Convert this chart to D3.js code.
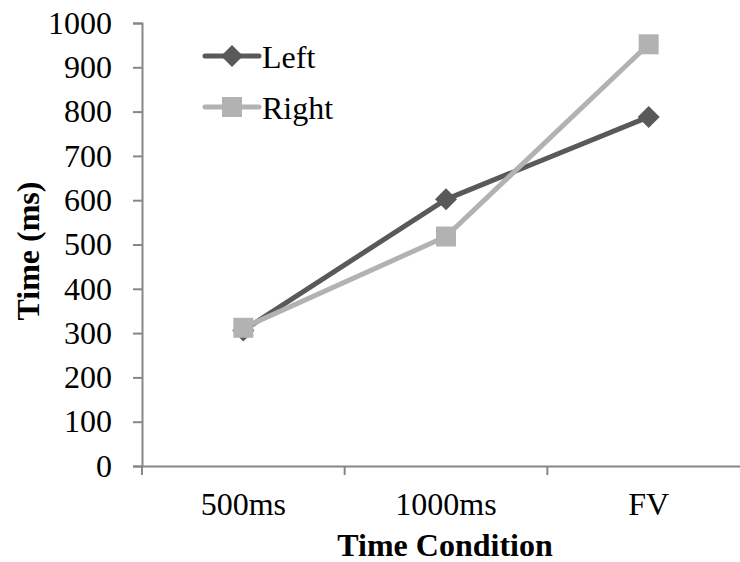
<!DOCTYPE html>
<html><head><meta charset="utf-8">
<script src="https://cdn.jsdelivr.net/npm/d3@7"></script>
<style>body{margin:0;background:#fff}svg{display:block}text{font-family:"Liberation Serif","Times New Roman",serif}</style>
</head><body>
<script>
const categories = ["500ms", "1000ms", "FV"];
const leftValues = [306, 602, 788];
const rightValues = [312, 518, 952];
const seriesNames = ["Left", "Right"];
const yTicks = [0,100,200,300,400,500,600,700,800,900,1000];

const W = 740, H = 562;
const svg = d3.select("body").append("svg").attr("width", W).attr("height", H);
const x = d3.scaleBand().domain(categories).range([142, 750]);
const y = d3.scaleLinear().domain([0, 1000]).range([466, 23]);
const axisColor = "#868686";
const FS = 32;

// y axis
const ya = svg.append("g").attr("transform", "translate(142,0)")
  .call(d3.axisLeft(y).tickValues(yTicks).tickFormat(d3.format("d")).tickSize(9).tickPadding(21));
ya.attr("font-family", null).attr("font-size", null);
ya.select(".domain").attr("stroke", axisColor).attr("stroke-width", 2);
ya.selectAll(".tick line").attr("stroke", axisColor).attr("stroke-width", 2);
ya.selectAll(".tick text").attr("font-size", FS).attr("fill", "#000");

// x axis
const xa = svg.append("g").attr("transform", "translate(0,466)")
  .call(d3.axisBottom(x).tickSize(0).tickPadding(26));
xa.attr("font-family", null).attr("font-size", null);
xa.select(".domain").attr("stroke", axisColor).attr("stroke-width", 2);
xa.selectAll(".tick text").attr("font-size", FS).attr("fill", "#000");
const bounds = categories.map(c => x(c)).concat([x.range()[1]]);
svg.append("g").selectAll("line").data(bounds).join("line")
  .attr("x1", d => d).attr("x2", d => d).attr("y1", 466).attr("y2", 475)
  .attr("stroke", axisColor).attr("stroke-width", 2);

// titles
svg.append("text").attr("x", 445).attr("y", 556).attr("text-anchor", "middle")
  .attr("font-size", FS).attr("font-weight", "bold").text("Time Condition");
svg.append("text").attr("transform", "translate(39,251) rotate(-90)").attr("text-anchor", "middle")
  .attr("font-size", FS).attr("font-weight", "bold").text("Time (ms)");

const cx = c => x(c) + x.bandwidth() / 2;
const series = [
  {name: seriesNames[0], values: leftValues, color: "#595959", marker: "diamond"},
  {name: seriesNames[1], values: rightValues, color: "#b2b2b2", marker: "square"}
];
const line = d3.line().x((d, i) => cx(categories[i])).y(d => y(d));
function drawMarker(g, type, color) {
  if (type === "diamond") {
    g.append("path").attr("d", "M0,-11L11,0L0,11L-11,0Z").attr("fill", color);
  } else {
    g.append("rect").attr("x", -10).attr("y", -10).attr("width", 20).attr("height", 20).attr("fill", color);
  }
}
series.forEach(s => {
  svg.append("path").datum(s.values).attr("d", line).attr("fill", "none")
    .attr("stroke", s.color).attr("stroke-width", 5).attr("stroke-linejoin", "round");
});
series.forEach(s => {
  s.values.forEach((v, i) => {
    const g = svg.append("g").attr("transform", `translate(${cx(categories[i])},${y(v)})`);
    drawMarker(g, s.marker, s.color);
  });
});

// legend
const legY = [56, 107];
series.forEach((s, i) => {
  const g = svg.append("g").attr("transform", `translate(0,${legY[i]})`);
  g.append("line").attr("x1", 205).attr("x2", 259).attr("y1", 0).attr("y2", 0)
    .attr("stroke", s.color).attr("stroke-width", 5).attr("stroke-linecap", "round");
  const m = g.append("g").attr("transform", "translate(232,0)");
  drawMarker(m, s.marker, s.color);
  g.append("text").attr("x", 262).attr("y", 12).attr("font-size", FS).text(s.name);
});
</script>
</body></html>
